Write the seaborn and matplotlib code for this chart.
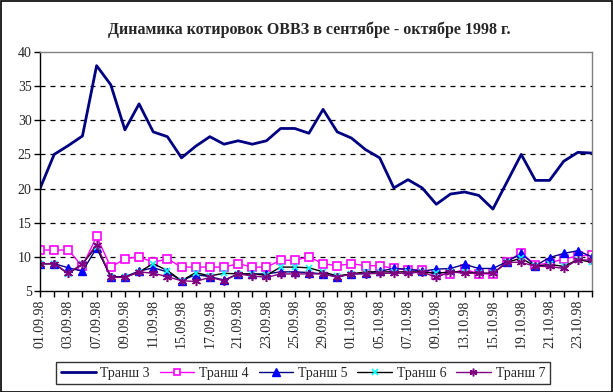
import matplotlib
matplotlib.use("Agg")
import matplotlib.pyplot as plt
import seaborn as sns
import pandas as pd
from matplotlib.patches import Rectangle

dates = ["01.09.98", "02.09.98", "03.09.98", "04.09.98", "07.09.98", "08.09.98",
         "09.09.98", "10.09.98", "11.09.98", "14.09.98", "15.09.98", "16.09.98",
         "17.09.98", "18.09.98", "21.09.98", "22.09.98", "23.09.98", "24.09.98",
         "25.09.98", "28.09.98", "29.09.98", "30.09.98", "01.10.98", "02.10.98",
         "05.10.98", "06.10.98", "07.10.98", "08.10.98", "09.10.98", "12.10.98",
         "13.10.98", "14.10.98", "15.10.98", "16.10.98", "19.10.98", "20.10.98",
         "21.10.98", "22.10.98", "23.10.98", "26.10.98"]

tr3 = [20.0, 25.0, 26.3, 27.7, 38.0, 35.2, 28.6, 32.4, 28.3, 27.6,
       24.5, 26.2, 27.6, 26.5, 27.0, 26.5, 27.0, 28.8, 28.8, 28.1,
       31.6, 28.3, 27.4, 25.7, 24.5, 20.1, 21.3, 20.1, 17.7, 19.2,
       19.5, 19.0, 17.0, 21.0, 25.0, 21.2, 21.2, 24.0, 25.3, 25.2]
tr4 = [11.0, 11.0, 11.0, 8.6, 13.0, 8.5, 9.7, 10.0, 9.2, 9.7,
       8.5, 8.5, 8.5, 8.5, 9.0, 8.5, 8.5, 9.5, 9.5, 10.0,
       9.0, 8.7, 9.0, 8.7, 8.7, 8.3, 8.1, 8.1, 7.4, 7.5,
       8.2, 7.5, 7.5, 9.3, 10.6, 8.8, 9.1, 9.7, 10.1, 10.3]
tr5 = [9.0, 9.0, 8.4, 7.9, 11.3, 7.1, 7.1, 7.9, 8.4, 7.8,
       6.5, 7.4, 7.1, 6.6, 7.5, 7.5, 7.5, 7.8, 7.8, 7.7,
       7.5, 7.1, 7.5, 7.6, 7.9, 8.3, 8.2, 7.9, 8.2, 8.3,
       8.9, 8.3, 8.3, 9.3, 10.5, 8.7, 9.9, 10.5, 10.9, 10.0]
tr6 = [9.0, 9.0, 7.5, 9.0, 11.5, 7.0, 7.0, 7.8, 9.0, 8.0,
       6.5, 7.7, 7.2, 7.6, 7.5, 7.5, 7.3, 8.5, 8.5, 8.4,
       7.8, 7.2, 7.5, 7.8, 7.8, 7.8, 7.8, 7.8, 7.6, 7.8,
       7.8, 7.6, 7.6, 9.2, 9.8, 8.6, 8.9, 8.6, 9.6, 9.2]
tr7 = [9.0, 9.0, 7.6, 9.0, 11.8, 7.0, 7.0, 7.8, 7.6, 7.1,
       6.5, 6.4, 7.0, 6.5, 7.5, 7.2, 7.0, 7.5, 7.5, 7.5,
       7.5, 7.0, 7.5, 7.5, 7.6, 7.6, 7.6, 7.8, 7.0, 7.8,
       7.6, 7.6, 7.6, 9.2, 9.2, 8.6, 8.6, 8.3, 9.6, 9.5]

series_names = ["Транш 3", "Транш 4", "Транш 5", "Транш 6", "Транш 7"]
series_vals = [tr3, tr4, tr5, tr6, tr7]
yticks = [5, 10, 15, 20, 25, 30, 35, 40]

sns.set_style("white")
plt.rcParams["font.family"] = ["Liberation Serif", "DejaVu Serif"]

fig = plt.figure(figsize=(6.13, 3.92), dpi=100)
ax = fig.add_axes([40 / 613, 1 - 291 / 392, 552 / 613, 239 / 392])

idx = list(range(len(dates)))
styles = [
    dict(color="#000080", lw=2.0, marker=None),
    dict(color="#FF00FF", lw=1.0, marker="s", ms=5.5, mfc="white", mec="#FF00FF", mew=1.2),
    dict(color="#000080", lw=1.0, marker="^", ms=6.0, mfc="#0000FF", mec="#0000FF", mew=1),
    dict(color="black", lw=1.0, marker="x", ms=5.0, mfc="#00FFFF", mec="#00FFFF", mew=1.2),
    dict(color="#800080", lw=1.0, marker=(6, 2, 0), ms=6.5, mfc="#800080", mec="#800080", mew=1.1),
]
for name, vals, st in zip(series_names, series_vals, styles):
    df = pd.DataFrame({"x": idx, "y": vals})
    sns.lineplot(data=df, x="x", y="y", ax=ax, color=st["color"],
                 linewidth=st["lw"], marker=st["marker"],
                 markersize=st.get("ms", 0), markerfacecolor=st.get("mfc"),
                 markeredgecolor=st.get("mec"), markeredgewidth=st.get("mew", 0),
                 legend=False)
    ax.lines[-1].set_label(name)

ax.set_xlim(0, len(dates) - 1)
ax.set_ylim(5, 40)
ax.set_yticks(yticks)
ax.set_yticklabels([str(v) for v in yticks], fontsize=10)
ax.set_xticks(idx)
ax.set_xticklabels([d if i % 2 == 0 else "" for i, d in enumerate(dates)],
                   rotation=90, fontsize=10)
ax.set_xlabel("")
ax.set_ylabel("")
ax.tick_params(axis="both", direction="out", length=4, width=1, color="black",
               left=True, bottom=True, pad=2)

for v in yticks[1:-1]:
    ax.axhline(v, color="black", lw=0.9, ls=(0, (4, 4)), zorder=0.5)

ax.spines["left"].set_color("black")
ax.spines["bottom"].set_color("black")
ax.spines["top"].set_color("#808080")
ax.spines["right"].set_color("#808080")
for s in ax.spines.values():
    s.set_linewidth(1)
    s.set_visible(True)

fig.text(0.505, 1 - 30 / 392, "Динамика котировок ОВВЗ в сентябре - октябре 1998 г.",
         ha="center", va="center", fontsize=11.5, fontweight="bold")

leg = fig.legend(handles=ax.lines[:5], labels=series_names, loc="center",
                 bbox_to_anchor=(303 / 613, 1 - 373 / 392), ncol=5, fontsize=10,
                 frameon=True, fancybox=False, edgecolor="black", handlelength=2.5,
                 handletextpad=0.35, columnspacing=0.7, borderpad=0.35,
                 markerscale=0.85)
leg.get_frame().set_linewidth(1)

fig.patches.append(Rectangle((0.5 / 613, 0.5 / 392), 1 - 1.5 / 613, 1 - 1.5 / 392,
                             transform=fig.transFigure, fill=False,
                             edgecolor="black", lw=1.2))

fig.savefig("out.png", dpi=100)
